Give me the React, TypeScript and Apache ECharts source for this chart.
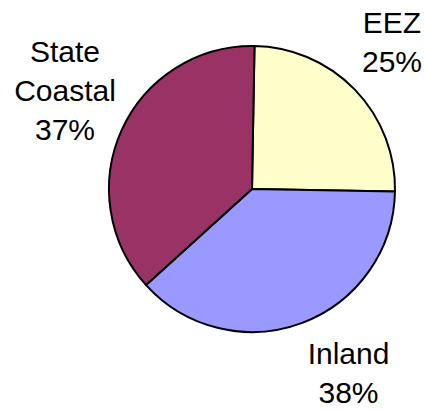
import React, { useEffect, useRef } from "react";
import * as echarts from "echarts";

const categories = ["EEZ", "Inland", "State\nCoastal"];
const values = [25, 38, 37];
const colors = ["#FFFFCC", "#9999FF", "#993366"];

export default function App() {
  const ref = useRef<HTMLDivElement>(null);
  useEffect(() => {
    if (!ref.current) return;
    const chart = echarts.init(ref.current, null, { renderer: "svg" });
    const labelPos = [
      { x: 392, y: 41.7 },
      { x: 348.5, y: 373.3 },
      { x: 65, y: 90.7 },
    ];
    chart.setOption({
      animation: false,
      backgroundColor: "#ffffff",
      series: [
        {
          type: "pie",
          center: [252, 189],
          radius: 143,
          startAngle: 89,
          clockwise: true,
          avoidLabelOverlap: false,
          data: categories.map((c, i) => ({
            name: c,
            value: values[i],
            itemStyle: { color: colors[i] },
          })),
          itemStyle: { borderColor: "#000000", borderWidth: 2 },
          emphasis: { disabled: true },
          label: {
            show: true,
            position: "outside",
            formatter: (p: any) => `${p.name}\n${Math.round(p.percent)}%`,
            fontFamily: "Liberation Sans, Arial, sans-serif",
            fontSize: 30,
            lineHeight: 39,
            color: "#000000",
            align: "center",
          },
          labelLine: { show: false },
          labelLayout: (params: any) => ({
            x: labelPos[params.dataIndex].x,
            y: labelPos[params.dataIndex].y,
            align: "center",
            verticalAlign: "middle",
          }),
        },
      ],
    });
    return () => chart.dispose();
  }, []);
  return (
    <div
      ref={ref}
      style={{ position: "fixed", left: 0, top: 0, width: 424, height: 410 }}
    />
  );
}
